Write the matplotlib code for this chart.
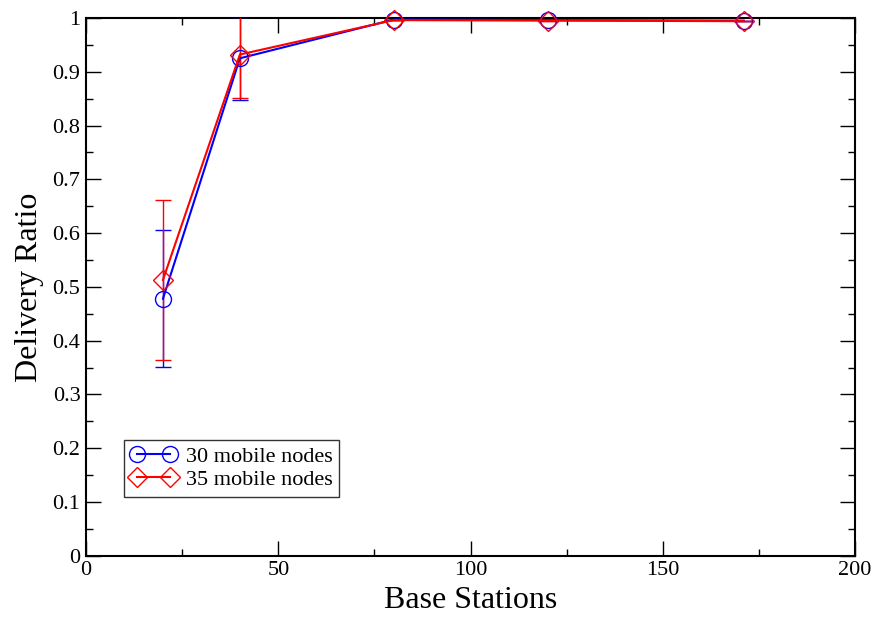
import matplotlib
matplotlib.use("Agg")
import matplotlib.pyplot as plt
from matplotlib.ticker import MultipleLocator
from matplotlib.lines import Line2D

plt.rcParams['font.family'] = ['Liberation Serif', 'DejaVu Serif']

# data
base_stations = [20, 40, 80, 120, 171]
ratio_30 = [0.478, 0.925, 0.997, 0.996, 0.995]
err_30 = [0.127, 0.077, 0.0, 0.0, 0.0]
ratio_35 = [0.513, 0.932, 0.996, 0.995, 0.994]
err_35 = [0.149, 0.080, 0.0, 0.0, 0.0]

fig = plt.figure(figsize=(8.78, 6.19), dpi=100)
ax = fig.add_axes([0.098, 0.102, 0.876, 0.869])

styles = [('blue', 'o', 11.5, '30 mobile nodes', ratio_30, err_30),
          ('red', 'D', 10, '35 mobile nodes', ratio_35, err_35)]
handles = []
for color, mk, ms, label, vals, errs in styles:
    line, caps, bars = ax.errorbar(base_stations, vals, yerr=errs, color=color,
                                   lw=1.5, marker=mk, ms=ms, mfc='none',
                                   mec=color, mew=1.0, elinewidth=1.0,
                                   capsize=5.5, capthick=1.0, zorder=3)
    line.set_clip_on(False)
    handles.append(Line2D([], [], color=color, lw=1.5, marker=mk, ms=ms,
                          mfc='none', mec=color, mew=1.0, label=label))

ax.set_xlim(0, 200)
ax.set_ylim(0, 1)
ax.xaxis.set_major_locator(MultipleLocator(50))
ax.xaxis.set_minor_locator(MultipleLocator(25))
ax.yaxis.set_major_locator(MultipleLocator(0.1))
ax.yaxis.set_minor_locator(MultipleLocator(0.05))
ax.yaxis.set_major_formatter(plt.FuncFormatter(lambda v, p: f'{v:g}'))

ax.tick_params(which='both', direction='in', top=True, right=True,
               labelsize=16, width=1.0)
ax.tick_params(which='major', length=11, pad=4)
ax.tick_params(which='minor', length=5)
for s in ax.spines.values():
    s.set_linewidth(1.5)

ax.set_xlabel('Base Stations', fontsize=23, labelpad=4)
ax.set_ylabel('Delivery Ratio', fontsize=23, labelpad=6)

leg = ax.legend(handles=handles, loc='lower left', bbox_to_anchor=(0.049, 0.11),
                numpoints=2, fontsize=16, frameon=True, fancybox=False,
                handlelength=2.1, borderpad=0.3, labelspacing=0.1,
                handletextpad=0.4, borderaxespad=0)
leg.get_frame().set_edgecolor('black')
leg.get_frame().set_linewidth(1.0)

fig.savefig('out.png', dpi=100)
